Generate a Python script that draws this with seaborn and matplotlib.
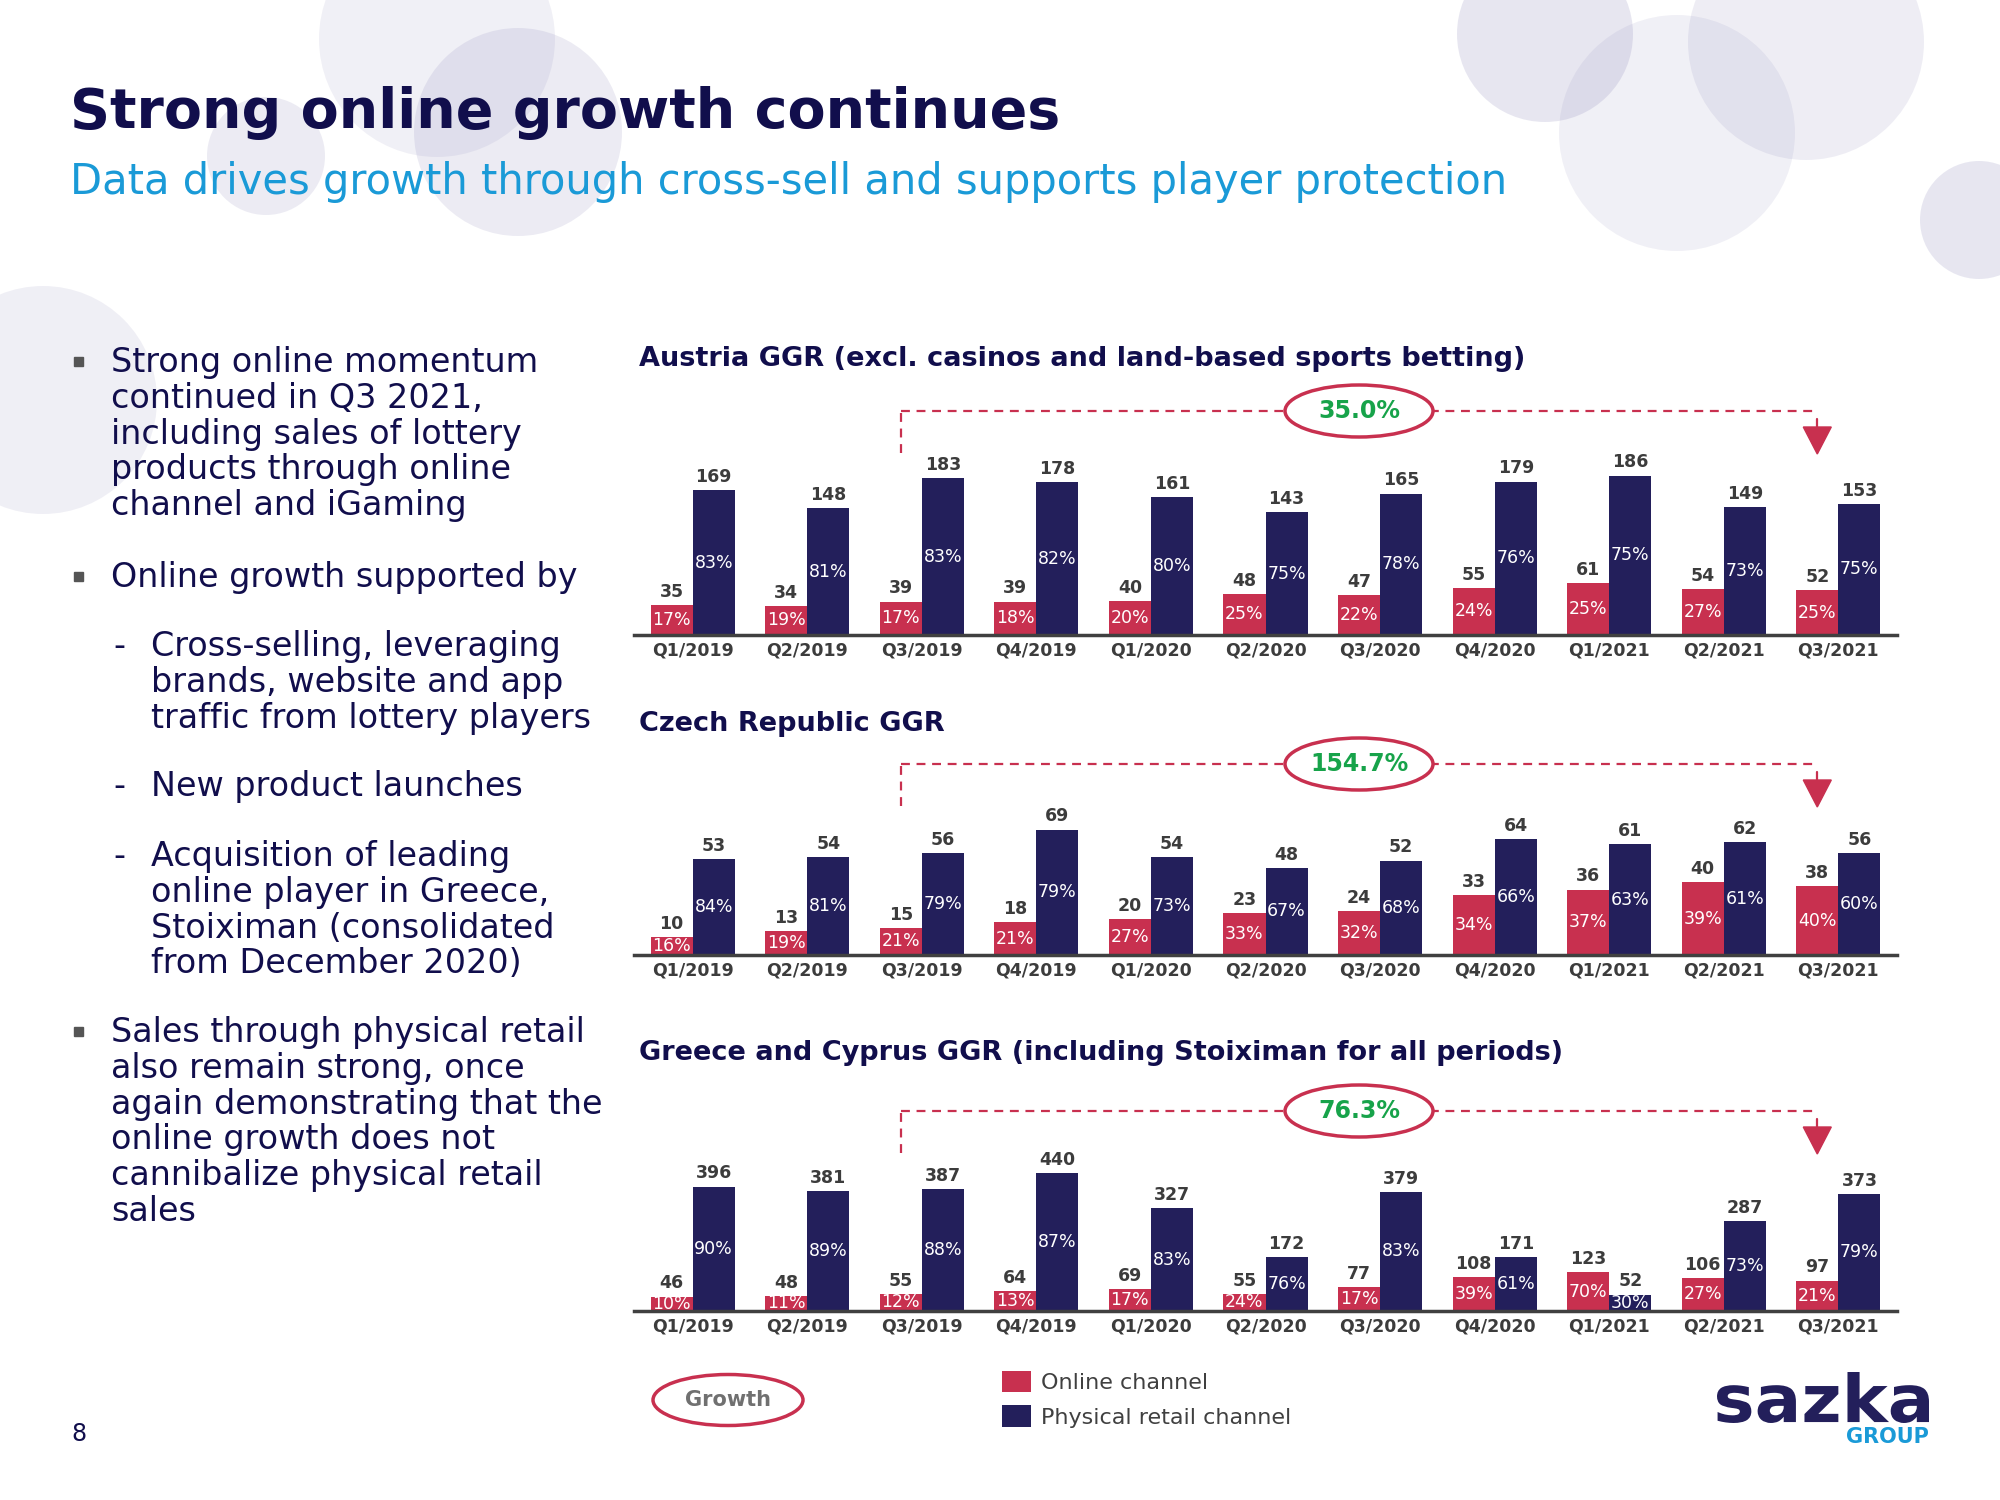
import numpy as np
import pandas as pd
import seaborn as sns
import matplotlib.pyplot as plt
from matplotlib.patches import Circle, Ellipse, Polygon, PathPatch, Rectangle
from matplotlib.textpath import TextPath
from matplotlib.font_manager import FontProperties
from matplotlib.transforms import Affine2D

# data
quarters = ['Q1/2019', 'Q2/2019', 'Q3/2019', 'Q4/2019', 'Q1/2020', 'Q2/2020',
            'Q3/2020', 'Q4/2020', 'Q1/2021', 'Q2/2021', 'Q3/2021']
channels = ['Online channel', 'Physical retail channel']

austria_online = [35, 34, 39, 39, 40, 48, 47, 55, 61, 54, 52]
austria_retail = [169, 148, 183, 178, 161, 143, 165, 179, 186, 149, 153]
austria_online_pct = [17, 19, 17, 18, 20, 25, 22, 24, 25, 27, 25]
austria_retail_pct = [83, 81, 83, 82, 80, 75, 78, 76, 75, 73, 75]

czech_online = [10, 13, 15, 18, 20, 23, 24, 33, 36, 40, 38]
czech_retail = [53, 54, 56, 69, 54, 48, 52, 64, 61, 62, 56]
czech_online_pct = [16, 19, 21, 21, 27, 33, 32, 34, 37, 39, 40]
czech_retail_pct = [84, 81, 79, 79, 73, 67, 68, 66, 63, 61, 60]

greece_online = [46, 48, 55, 64, 69, 55, 77, 108, 123, 106, 97]
greece_retail = [396, 381, 387, 440, 327, 172, 379, 171, 52, 287, 373]
greece_online_pct = [10, 11, 12, 13, 17, 24, 17, 39, 70, 27, 21]
greece_retail_pct = [90, 89, 88, 87, 83, 76, 83, 61, 30, 73, 79]

growth_labels = ['35.0%', '154.7%', '76.3%']
chart_titles = ['Austria GGR (excl. casinos and land-based sports betting)',
                'Czech Republic GGR',
                'Greece and Cyprus GGR (including Stoiximan for all periods)']

# colours
RED = '#C8304F'
NAVY = '#231F5B'
DARK = '#110E4C'
CYAN = '#1A9AD7'
GREEN = '#17A34A'
GREY = '#3C3C3C'

sns.set_theme(style='white')
plt.rcParams['font.family'] = ['DejaVu Sans']

fig = plt.figure(figsize=(20, 15), dpi=100)
fig.patch.set_facecolor('white')

# background layer in pixel coordinates (y down)
bg = fig.add_axes([0, 0, 1, 1], zorder=0)
bg.set_xlim(0, 2000)
bg.set_ylim(1500, 0)
bg.axis('off')

# decorative circles
for cx, cy, r, a in [(437, 39, 118, 0.12), (518, 132, 104, 0.16), (266, 156, 59, 0.16),
                     (43, 400, 114, 0.13), (1545, 34, 88, 0.2), (1677, 133, 118, 0.12),
                     (1806, 42, 118, 0.14), (1979, 220, 59, 0.2)]:
    bg.add_patch(Circle((cx, cy), r, facecolor='#8a86b8', alpha=a, edgecolor='none'))

# titles
bg.text(70, 128, 'Strong online growth continues', fontsize=40, fontweight='bold',
        color=DARK, va='baseline')
bg.text(70, 194, 'Data drives growth through cross-sell and supports player protection',
        fontsize=30, color=CYAN, va='baseline')

# left bullet text
blocks = [
    ('square', 372, ['Strong online momentum', 'continued in Q3 2021,',
                     'including sales of lottery', 'products through online',
                     'channel and iGaming']),
    ('square', 587, ['Online growth supported by']),
    ('dash', 656, ['Cross-selling, leveraging', 'brands, website and app',
                   'traffic from lottery players']),
    ('dash', 796, ['New product launches']),
    ('dash', 866, ['Acquisition of leading', 'online player in Greece,',
                   'Stoiximan (consolidated', 'from December 2020)']),
    ('square', 1042, ['Sales through physical retail', 'also remain strong, once',
                      'again demonstrating that the', 'online growth does not',
                      'cannibalize physical retail', 'sales']),
]
for kind, y0, lines in blocks:
    if kind == 'square':
        bg.add_patch(Rectangle((74, y0 - 15), 9, 9, color='#555555'))
        tx = 111
    else:
        bg.text(113, y0, '-', fontsize=24, color=DARK, va='baseline')
        tx = 151
    for i, line in enumerate(lines):
        bg.text(tx, y0 + i * 35.8, line, fontsize=24, color=DARK, va='baseline')

# chart layout: axes rect, y max, title baseline, dashed line y
charts = [
    (austria_online, austria_retail, austria_online_pct, austria_retail_pct,
     [0.317, 0.5767, 0.6315, 0.134], 234.6, 366, 411),
    (czech_online, czech_retail, czech_online_pct, czech_retail_pct,
     [0.317, 0.3633, 0.6315, 0.1093], 90.2, 731, 764),
    (greece_online, greece_retail, greece_online_pct, greece_retail_pct,
     [0.317, 0.126, 0.6315, 0.1173], 560, 1060, 1111),
]

handles = None
for k, (online, retail, opct, rpct, rect, ymax, ty, dy) in enumerate(charts):
    df = pd.DataFrame({
        'quarter': quarters * 2,
        'channel': [channels[0]] * len(quarters) + [channels[1]] * len(quarters),
        'ggr': online + retail,
    })
    ax = fig.add_axes(rect, zorder=2)
    ax.patch.set_alpha(0)
    sns.barplot(data=df, x='quarter', y='ggr', hue='channel', order=quarters,
                hue_order=channels, palette=[RED, NAVY], width=0.735, saturation=1,
                errorbar=None, linewidth=0, ax=ax)
    if handles is None:
        handles, labels = ax.get_legend_handles_labels()
    ax.get_legend().remove()
    ax.set_xlim(-0.512, len(quarters) - 1 + 0.512)
    ax.set_ylim(0, ymax)
    ax.set_xlabel('')
    ax.set_ylabel('')
    ax.set_yticks([])
    for s in ['top', 'right', 'left']:
        ax.spines[s].set_visible(False)
    ax.spines['bottom'].set_color('#404040')
    ax.spines['bottom'].set_linewidth(2.5)
    ax.tick_params(axis='x', length=0, pad=5)
    for lab in ax.get_xticklabels():
        lab.set_fontsize(12.5)
        lab.set_fontweight('bold')
        lab.set_color(GREY)

    for cont, vals, pcts in [(ax.containers[0], online, opct), (ax.containers[1], retail, rpct)]:
        for bar, v, p in zip(cont, vals, pcts):
            cx = bar.get_x() + bar.get_width() / 2
            h = bar.get_height()
            ax.annotate(f'{v}', (cx, h), xytext=(0, 3), textcoords='offset points',
                        ha='center', va='bottom', fontsize=12.5, fontweight='bold', color=GREY)
            ax.text(cx, h / 2, f'{p}%', ha='center', va='center', fontsize=12.5, color='white')

    bg.text(639, ty, chart_titles[k], fontsize=19.5, fontweight='bold', color=DARK, va='baseline')

    # growth annotation: Q3/2019 online vs Q3/2021 online
    b0 = ax.containers[0][2]
    b1 = ax.containers[0][len(quarters) - 1]
    xl = ax.transData.transform((b0.get_x() + b0.get_width() / 2, 0))[0]
    xr = ax.transData.transform((b1.get_x() + b1.get_width() / 2, 0))[0]
    dash = (0, (4, 3))
    bg.plot([xl, xl], [dy + 42, dy], color=RED, lw=1.6, ls=dash)
    bg.plot([xl, xr], [dy, dy], color=RED, lw=1.6, ls=dash)
    bg.plot([xr, xr], [dy + 8, dy + 17], color=RED, lw=1.6)
    bg.add_patch(Polygon([(xr - 14, dy + 16), (xr + 14, dy + 16), (xr, dy + 43)],
                         closed=True, color=RED))
    xm = (xl + xr) / 2
    bg.add_patch(Ellipse((xm, dy), 148, 52, facecolor='white', edgecolor=RED, lw=2.5, zorder=3))
    bg.text(xm, dy, growth_labels[k], ha='center', va='center', fontsize=17,
            fontweight='bold', color=GREEN, zorder=4)

# legend
fig.legend(handles, labels, loc='upper left', bbox_to_anchor=(0.4955, 0.0935),
           frameon=False, fontsize=16, handlelength=1.3, handleheight=1.1,
           handletextpad=0.45, labelspacing=0.55, borderpad=0, labelcolor='#404040')

bg.add_patch(Ellipse((728, 1400), 150, 51, facecolor='white', edgecolor=RED, lw=2.5))
bg.text(728, 1400, 'Growth', ha='center', va='center', fontsize=15, fontweight='bold',
        color='#707070')

# page number
bg.text(79, 1434, '8', ha='center', va='center', fontsize=17, color=DARK)

# logo
tp = TextPath((0, 0), 'sazka', prop=FontProperties(family='DejaVu Sans', weight='heavy'), size=100)
ext = tp.get_extents()
sx = (1929 - 1717) / ext.width
sy = (1423 - 1372) / ext.height
tr = Affine2D().translate(-ext.x0, -ext.y0).scale(sx, -sy).translate(1717, 1423)
bg.add_patch(PathPatch(tr.transform_path(tp), color=NAVY, lw=0))
bg.text(1929, 1437, 'GROUP', ha='right', va='center', fontsize=15, fontweight='bold', color=CYAN)

fig.savefig('out.png', dpi=100)
